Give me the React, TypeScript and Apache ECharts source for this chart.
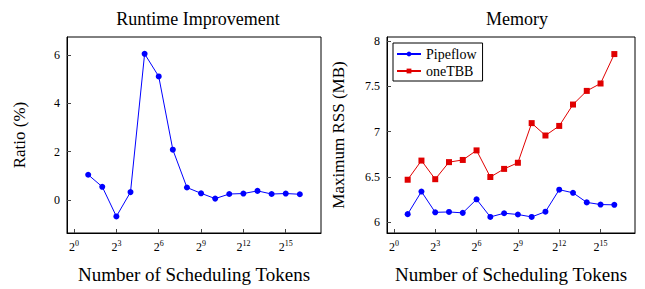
import React, { useEffect, useRef } from "react";
import * as echarts from "echarts";

const exponents = [1, 2, 3, 4, 5, 6, 7, 8, 9, 10, 11, 12, 13, 14, 15, 16];
const xTickExps = [0, 3, 6, 9, 12, 15];
const runtimeRatio = [1.04, 0.54, -0.69, 0.32, 6.06, 5.12, 2.08, 0.51, 0.27, 0.05, 0.24, 0.26, 0.37, 0.24, 0.26, 0.23];
const pipeflowRss = [6.086, 6.336, 6.106, 6.11, 6.1, 6.25, 6.055, 6.096, 6.082, 6.055, 6.113, 6.357, 6.322, 6.216, 6.192, 6.189];
const onetbbRss = [6.467, 6.679, 6.473, 6.662, 6.686, 6.792, 6.497, 6.587, 6.655, 7.094, 6.957, 7.063, 7.3, 7.451, 7.533, 7.859];
const ratioTicks = [0, 2, 4, 6];
const rssTicks = [6, 6.5, 7, 7.5, 8];

const FONT = "'Liberation Serif', serif";
const X_MIN = -0.5;
const X_MAX = 17.5;

function mkX(): any {
  return {
    type: "value",
    min: X_MIN,
    max: X_MAX,
    axisLine: { show: true, onZero: false, lineStyle: { color: "#000", width: 1 } },
    axisTick: { show: true, inside: true, length: 4, customValues: xTickExps.slice(), lineStyle: { color: "#444", width: 1 } },
    axisLabel: {
      show: true,
      customValues: xTickExps.slice(),
      fontFamily: FONT,
      fontSize: 12,
      color: "#000",
      margin: 6,
      formatter: (v: number) => `2{s|${v}}`,
      rich: { s: { fontSize: 8, fontFamily: FONT, padding: [0, 0, 7, 0], color: "#000" } },
    },
    splitLine: { show: false },
    name: "Number of Scheduling Tokens",
    nameLocation: "middle",
    nameGap: 32,
    nameTextStyle: { fontFamily: FONT, fontSize: 19, color: "#000" },
  };
}

function mkY(min: number, max: number, ticks: number[], name: string, nameGap: number): any {
  return {
    type: "value",
    min,
    max,
    axisLine: { show: true, onZero: false, lineStyle: { color: "#000", width: 1 } },
    axisTick: { show: true, inside: true, length: 4, customValues: ticks.slice(), lineStyle: { color: "#444", width: 1 } },
    axisLabel: { show: true, customValues: ticks.slice(), fontFamily: FONT, fontSize: 12, color: "#000", margin: 7 },
    splitLine: { show: false },
    name,
    nameLocation: "middle",
    nameGap,
    nameTextStyle: { fontFamily: FONT, fontSize: 17, color: "#000" },
  };
}

function lineSeries(name: string, values: number[], color: string, symbol: string): any {
  return {
    type: "line",
    name,
    data: exponents.map((e, i) => [e, values[i]]),
    symbol,
    symbolSize: 6,
    color,
    lineStyle: { width: 1, color },
    itemStyle: { color },
  };
}

function gridBox(left: number, width: number): any {
  return { left, top: 37, width, height: 211, show: true, borderColor: "#000", borderWidth: 1, backgroundColor: "transparent" };
}

function runtimeOption(): any {
  return {
    animation: false,
    title: [{ text: "Runtime Improvement", left: 193, top: 5, textAlign: "center", textStyle: { fontFamily: FONT, fontSize: 18, fontWeight: "normal", color: "#000" } }],
    grid: [gridBox(67, 254)],
    xAxis: [mkX()],
    yAxis: [mkY(-1.378, 6.758, ratioTicks, "Ratio (%)", 39)],
    series: [lineSeries("Runtime", runtimeRatio, "#0000ff", "circle")],
  };
}

function memoryOption(): any {
  return {
    animation: false,
    title: [{ text: "Memory", left: 190, top: 5, textAlign: "center", textStyle: { fontFamily: FONT, fontSize: 18, fontWeight: "normal", color: "#000" } }],
    grid: [gridBox(64, 249)],
    xAxis: [mkX()],
    yAxis: [mkY(5.877, 8.048, rssTicks, "Maximum RSS (MB)", 40)],
    legend: {
      left: 71,
      top: 43,
      orient: "vertical",
      data: ["Pipeflow", "oneTBB"],
      borderColor: "#000",
      borderWidth: 1,
      borderRadius: 0,
      padding: [4, 6, 3, 3],
      itemWidth: 24,
      itemHeight: 6,
      itemGap: 3,
      textStyle: { fontFamily: FONT, fontSize: 14, color: "#000" },
    },
    series: [
      lineSeries("Pipeflow", pipeflowRss, "#0000ff", "circle"),
      lineSeries("oneTBB", onetbbRss, "#e00000", "rect"),
    ],
  };
}

function Panel({ left, width, make }: { left: number; width: number; make: () => any }) {
  const ref = useRef<HTMLDivElement>(null);
  useEffect(() => {
    const chart = echarts.init(ref.current!, null, { renderer: "svg" });
    chart.setOption(make());
    return () => chart.dispose();
  }, []);
  return <div ref={ref} style={{ position: "absolute", left, top: 0, width, height: 289 }} />;
}

export default function App() {
  return (
    <div style={{ position: "absolute", left: 0, top: 0, width: 645, height: 289 }}>
      <Panel left={0} width={322} make={runtimeOption} />
      <Panel left={322} width={323} make={memoryOption} />
    </div>
  );
}
